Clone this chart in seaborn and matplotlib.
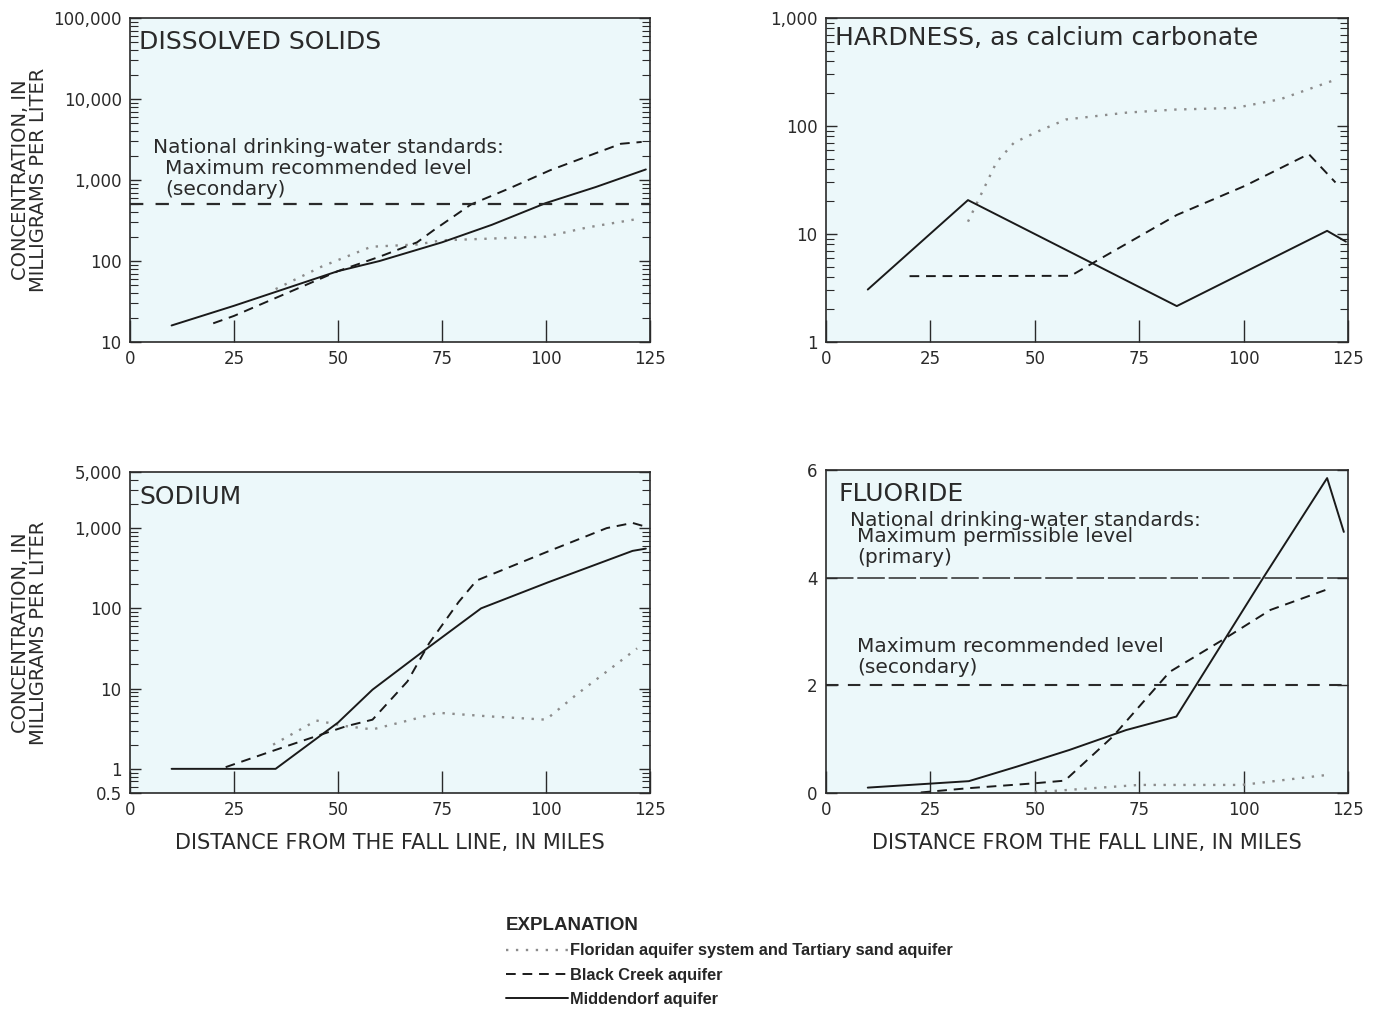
import numpy as np
import pandas as pd
import matplotlib
matplotlib.use("Agg")
import matplotlib.pyplot as plt
import matplotlib.ticker as mticker
from matplotlib.lines import Line2D
import seaborn as sns

# ---------------------------------------------------------------------------
# Data (distance in miles, concentration in mg/L)
# ---------------------------------------------------------------------------
AQUIFERS = ["Floridan", "Black Creek", "Middendorf"]

# Dissolved solids
ds_mid_x = [10, 25, 50, 60, 75, 87, 100, 112, 124]
ds_mid_y = [16, 28, 75, 100, 170, 280, 520, 820, 1350]
ds_bc_x = [20, 25, 50, 60, 69, 73, 82, 91, 101, 118, 123]
ds_bc_y = [17, 21, 75, 113, 170, 240, 500, 780, 1320, 2800, 2950]
ds_fl_x = [35, 46, 58, 69, 75, 100, 110, 122]
ds_fl_y = [45, 85, 150, 160, 180, 200, 260, 330]
ds_standard = 500

# Hardness, as calcium carbonate
hd_mid_x = [10, 34, 84, 120, 124.5]
hd_mid_y = [3.06, 20.6, 2.15, 10.7, 8.5]
hd_bc_x = [20, 58.6, 65, 84, 100.4, 115.6, 122]
hd_bc_y = [4.07, 4.1, 5.7, 15, 28, 55, 30]
hd_fl_x = [34, 40.8, 45, 51, 57.5, 72, 83.7, 98, 108.8, 121]
hd_fl_y = [13, 46, 70, 90, 115, 133, 142, 147, 177, 260]

# Sodium
na_mid_x = [10, 35, 50, 58.3, 70.8, 84.4, 100.5, 120.8, 124]
na_mid_y = [1.0, 1.0, 3.77, 9.7, 30, 100, 211, 520, 555]
na_bc_x = [23, 34.4, 42.7, 52, 58.3, 66.7, 71.9, 79, 83.3, 100, 114.6, 120.8, 124]
na_bc_y = [1.05, 1.68, 2.35, 3.4, 4.1, 12.3, 36.6, 120, 222, 500, 1000, 1160, 1040]
na_fl_x = [34.4, 44.8, 52, 58.3, 67.7, 74, 86.5, 100, 107.3, 121.9]
na_fl_y = [2.0, 4.0, 3.4, 3.1, 4.1, 5.0, 4.5, 4.1, 8.4, 31.7]

# Fluoride
fl_mid_x = [10, 34.2, 45.7, 58.3, 71.9, 83.9, 88.6, 104.8, 120, 124]
fl_mid_y = [0.1, 0.22, 0.49, 0.8, 1.17, 1.42, 2.0, 4.01, 5.85, 4.85]
fl_bc_x = [22.7, 34.2, 49.9, 57.2, 68.7, 82.3, 94.9, 106.4, 121]
fl_bc_y = [0.01, 0.09, 0.18, 0.23, 1.05, 2.25, 2.84, 3.4, 3.81]
fl_fl_x = [50, 53, 75, 99.6, 120.5]
fl_fl_y = [0.02, 0.03, 0.15, 0.15, 0.34]
fl_primary = 4
fl_secondary = 2

X_TICKS = [0, 25, 50, 75, 100, 125]

PALETTE = {"Floridan": "#8c8c8c", "Black Creek": "#1a1a1a", "Middendorf": "#1a1a1a"}
DASHES = {"Floridan": (1, 3.2), "Black Creek": (5, 3.5), "Middendorf": ""}
LEGEND_LABELS = {
    "Floridan": "Floridan aquifer system and Tartiary sand aquifer",
    "Black Creek": "Black Creek aquifer",
    "Middendorf": "Middendorf aquifer",
}
BG = "#ecf8fa"
INK = "#2a2a2a"
NOTE_SIZE = 14.5


def long_frame(fl_x, fl_y, bc_x, bc_y, mid_x, mid_y):
    parts = []
    for name, xs, ys in [("Floridan", fl_x, fl_y), ("Black Creek", bc_x, bc_y),
                         ("Middendorf", mid_x, mid_y)]:
        parts.append(pd.DataFrame({"distance": xs, "value": ys, "aquifer": name}))
    return pd.concat(parts, ignore_index=True)


def style_axis(ax, log=True):
    ax.set_facecolor(BG)
    for sp in ax.spines.values():
        sp.set_color(INK)
        sp.set_linewidth(1.2)
        sp.set_visible(True)
    ax.set_xlim(0, 125)
    ax.xaxis.set_major_locator(mticker.FixedLocator(X_TICKS))
    ax.tick_params(axis="x", which="major", direction="in", length=16, width=1.0,
                   color=INK, labelsize=12, pad=6, bottom=True, top=False)
    ax.tick_params(axis="x", which="minor", bottom=False, top=False)
    ax.tick_params(axis="y", which="major", direction="in", length=8, width=1.0,
                   color=INK, labelsize=12, pad=6, left=True, right=True)
    ax.tick_params(axis="y", which="minor", direction="in", length=6, width=0.8,
                   color=INK, left=True, right=True)
    if log:
        ax.set_yscale("log")
        ax.yaxis.set_minor_locator(mticker.LogLocator(base=10, subs=np.arange(2, 10)))
        ax.yaxis.set_minor_formatter(mticker.NullFormatter())
    ax.yaxis.set_major_formatter(
        mticker.FuncFormatter(lambda v, p: f"{v:g}" if v < 1 else f"{v:,.0f}"))
    ax.set_xlabel("")
    ax.set_ylabel("")
    for lab in ax.get_xticklabels() + ax.get_yticklabels():
        lab.set_color(INK)


def draw_series(ax, df):
    sns.lineplot(data=df, x="distance", y="value", hue="aquifer", style="aquifer",
                 palette=PALETTE, dashes=DASHES, estimator=None, linewidth=1.4,
                 legend=False, ax=ax)
    for line in ax.lines:
        if line.get_color() == PALETTE["Floridan"]:
            line.set_linewidth(1.7)


def note(ax, x, y, s):
    ax.text(x, y, s, transform=ax.transAxes, fontsize=NOTE_SIZE, va="center",
            ha="left", color=INK)


sns.set_theme(style="ticks")
plt.rcParams["font.family"] = ["DejaVu Sans"]

fig = plt.figure(figsize=(13.75, 10.09), dpi=100)
W, H = 1375, 1009


def add_axes(left, top, right, bottom):
    return fig.add_axes([left / W, 1 - bottom / H, (right - left) / W, (bottom - top) / H])


ax1 = add_axes(130, 18, 650, 342)
ax2 = add_axes(826, 18, 1348, 342)
ax3 = add_axes(130, 472, 650, 793)
ax4 = add_axes(826, 470, 1348, 793)

# --- Dissolved solids ---
draw_series(ax1, long_frame(ds_fl_x, ds_fl_y, ds_bc_x, ds_bc_y, ds_mid_x, ds_mid_y))
ax1.axhline(ds_standard, color=INK, linewidth=1.6, dashes=(6, 5.5))
style_axis(ax1)
ax1.set_ylim(10, 100000)
ax1.yaxis.set_major_locator(mticker.FixedLocator([10, 100, 1000, 10000, 100000]))
ax1.text(0.018, 0.926, "DISSOLVED SOLIDS", transform=ax1.transAxes, fontsize=18,
         va="center", ha="left", color=INK)
note(ax1, 0.044, 0.599, "National drinking-water standards:")
note(ax1, 0.067, 0.534, "Maximum recommended level")
note(ax1, 0.067, 0.470, "(secondary)")

# --- Hardness ---
draw_series(ax2, long_frame(hd_fl_x, hd_fl_y, hd_bc_x, hd_bc_y, hd_mid_x, hd_mid_y))
style_axis(ax2)
ax2.set_ylim(1, 1000)
ax2.yaxis.set_major_locator(mticker.FixedLocator([1, 10, 100, 1000]))
ax2.text(0.018, 0.938, "HARDNESS, as calcium carbonate", transform=ax2.transAxes,
         fontsize=18, va="center", ha="left", color=INK)

# --- Sodium ---
draw_series(ax3, long_frame(na_fl_x, na_fl_y, na_bc_x, na_bc_y, na_mid_x, na_mid_y))
style_axis(ax3)
ax3.set_ylim(0.5, 5000)
ax3.yaxis.set_major_locator(mticker.FixedLocator([0.5, 1, 10, 100, 1000, 5000]))
ax3.text(0.018, 0.922, "SODIUM", transform=ax3.transAxes, fontsize=18,
         va="center", ha="left", color=INK)

# --- Fluoride ---
draw_series(ax4, long_frame(fl_fl_x, fl_fl_y, fl_bc_x, fl_bc_y, fl_mid_x, fl_mid_y))
ax4.axhline(fl_primary, color=INK, linewidth=1.1, dashes=(18, 2.5))
ax4.axhline(fl_secondary, color=INK, linewidth=1.5, dashes=(6, 4.5))
style_axis(ax4, log=False)
ax4.set_ylim(0, 6)
ax4.yaxis.set_major_locator(mticker.FixedLocator([0, 2, 4, 6]))
ax4.text(0.023, 0.926, "FLUORIDE", transform=ax4.transAxes, fontsize=18,
         va="center", ha="left", color=INK)
note(ax4, 0.046, 0.845, "National drinking-water standards:")
note(ax4, 0.059, 0.793, "Maximum permissible level")
note(ax4, 0.059, 0.728, "(primary)")
note(ax4, 0.059, 0.455, "Maximum recommended level")
note(ax4, 0.059, 0.390, "(secondary)")

# axis titles
ylab = "CONCENTRATION, IN\nMILLIGRAMS PER LITER"
for ax in (ax1, ax3):
    ax.set_ylabel(ylab, fontsize=14, color=INK, linespacing=0.95)
    ax.yaxis.set_label_coords(-0.158, 0.5)
for ax in (ax3, ax4):
    ax.set_xlabel("DISTANCE FROM THE FALL LINE, IN MILES", fontsize=15, color=INK,
                  labelpad=10)

# explanation
handles = [Line2D([], [], color=PALETTE[a], linewidth=1.4 if a != "Floridan" else 1.7,
                  dashes=DASHES[a] if DASHES[a] else (None, None))
           for a in AQUIFERS]
handles[2].set_linestyle("-")
fig.legend(handles, [LEGEND_LABELS[a] for a in AQUIFERS], loc="upper left",
           bbox_to_anchor=(506 / W, 1 - 917 / H), frameon=False,
           title="EXPLANATION",
           title_fontproperties={"family": ["Liberation Sans", "DejaVu Sans"],
                                 "weight": "bold", "size": 13.5},
           prop={"family": ["Liberation Sans", "DejaVu Sans"], "weight": "bold", "size": 11.8},
           alignment="left", handlelength=3.8, handletextpad=0.1, labelspacing=0.57,
           borderpad=0, borderaxespad=0)

fig.savefig("out.png", dpi=100, facecolor="white")
